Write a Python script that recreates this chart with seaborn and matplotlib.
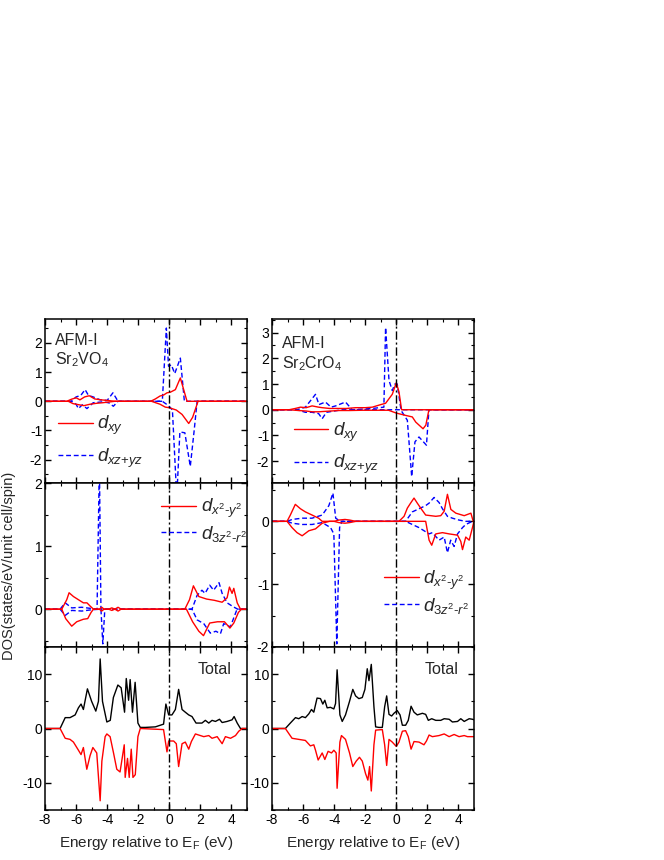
import matplotlib
matplotlib.use("Agg")
import matplotlib.pyplot as plt
from matplotlib.ticker import MultipleLocator
from matplotlib.lines import Line2D
import seaborn as sns

# ---- Sr2VO4 : d_xy / d_xz+yz (up = positive, down = negative) ----
V_XY_UP_E = [-8, -6.6, -6.3, -6.0, -5.75, -5.45, -5.15, -4.8, -4.4, -4.0, -3.5, -1.2, -0.9, -0.6, -0.35, -0.15, 0.06, 0.39, 0.71, 1.14, 5]
V_XY_UP = [0, 0, 0.07, 0.12, 0.05, 0.15, 0.19, 0.08, 0.05, 0.03, 0, 0, 0.08, 0.18, 0.22, 0.29, 0.31, 0.4, 0.8, 0, 0]
V_XY_DN_E = [-8, -6.5, -6.2, -5.8, -5.5, -5.1, -4.7, -4.3, -3.5, -1.15, -0.6, -0.26, 0.0, 0.45, 0.82, 1.25, 1.5, 1.85, 5]
V_XY_DN = [0, 0, -0.08, -0.12, -0.15, -0.1, -0.07, -0.05, 0, 0, -0.1, -0.2, -0.22, -0.3, -0.45, -0.76, -0.55, 0, 0]
V_YZ_UP_E = [-8, -6.3, -6.0, -5.7, -5.42, -5.2, -4.9, -4.45, -4.0, -3.63, -3.3, -0.45, -0.19, -0.05, 0.13, 0.35, 0.71, 0.97, 5]
V_YZ_UP = [0, 0, 0.15, 0.2, 0.4, 0.2, 0.15, 0.05, 0.03, 0.29, 0, 0, 2.51, 1.2, 1.25, 0.95, 1.48, 0, 0]
V_YZ_DN_E = [-8, -6.3, -6.0, -5.85, -5.6, -5.3, -4.9, -4.3, -3.9, -3.6, -3.3, -0.45, -0.05, 0.2, 0.48, 0.68, 1.0, 1.35, 1.6, 1.79, 5]
V_YZ_DN = [0, 0, -0.1, -0.25, -0.12, -0.25, -0.05, -0.02, -0.05, -0.17, 0, 0, -0.15, -0.3, -3.3, -1.05, -1.08, -2.23, -1.0, 0, 0]

# ---- Sr2VO4 : d_x2-y2 / d_3z2-r2 ----
V_X2_UP_E = [-8, -6.92, -6.6, -6.45, -6.17, -5.85, -5.53, -5.3, -5.1, -4.88, -4.5, -4.35, -4.2, -3.9, -3.7, -3.5, -3.3, -3.1, 1.0, 1.3, 1.55, 1.9, 2.4, 2.9, 3.4, 3.72, 3.87, 4.04, 4.15, 4.37, 4.58, 5]
V_X2_UP = [0, 0, 0.15, 0.26, 0.2, 0.15, 0.1, 0.1, 0.05, 0, 0, 0.03, 0, 0, 0.02, 0, 0.03, 0, 0, 0.15, 0.37, 0.2, 0.16, 0.14, 0.11, 0.18, 0.35, 0.25, 0.33, 0.1, 0, 0]
V_X2_DN_E = [-8, -6.92, -6.67, -6.28, -5.96, -5.53, -5.25, -5.03, -4.88, -4.5, -4.35, -4.2, -3.9, -3.7, -3.5, -3.3, -3.1, 1.1, 1.5, 1.9, 2.2, 2.6, 3.1, 3.55, 3.9, 4.15, 4.45, 4.65, 5]
V_X2_DN = [0, 0, -0.15, -0.27, -0.2, -0.16, -0.15, -0.05, 0, 0, -0.03, 0, 0, -0.02, 0, -0.03, 0, 0, -0.2, -0.35, -0.42, -0.22, -0.2, -0.2, -0.3, -0.22, -0.05, 0, 0]
V_Z2_UP_E = [-8, -7.03, -6.7, -6.28, -5.63, -5.0, -4.65, -4.5, -4.4, -4.0, -3.5, 1.46, 1.79, 2.1, 2.3, 2.6, 2.85, 3.2, 3.4, 3.72, 4.1, 4.4, 5]
V_Z2_UP = [0, 0, 0.1, 0.02, 0.03, 0.01, 0, 2.3, 0, 0, 0, 0, 0.22, 0.3, 0.25, 0.38, 0.3, 0.42, 0.25, 0.1, 0.04, 0, 0]
V_Z2_DN_E = [-8, -7.03, -6.7, -6.28, -5.63, -5.0, -4.4, -4.28, -4.15, 1.46, 1.79, 2.22, 2.64, 3.0, 3.29, 3.5, 3.93, 4.36, 5]
V_Z2_DN = [0, 0, -0.1, -0.02, -0.03, -0.01, 0, -0.55, 0, 0, -0.17, -0.23, -0.38, -0.35, -0.39, -0.23, -0.28, 0, 0]

# ---- Sr2VO4 : total ----
V_TOT_UP_E = [-8, -7.03, -6.7, -6.39, -6.06, -5.85, -5.68, -5.53, -5.27, -5.0, -4.73, -4.56, -4.45, -4.3, -4.02, -3.8, -3.6, -3.31, -3.1, -2.88, -2.77, -2.62, -2.52, -2.37, -2.2, -2.02, -1.87, -1.55, -0.9, -0.37, -0.22, -0.04, 0.17, 0.39, 0.6, 0.82, 1.03, 1.25, 1.46, 1.72, 2.1, 2.32, 2.54, 2.75, 2.97, 3.23, 3.4, 3.72, 4.04, 4.17, 4.37, 4.58, 5]
V_TOT_UP = [0, 0, 2.0, 2.0, 2.5, 3.8, 4.5, 3.5, 7.3, 5.0, 3.2, 5.0, 12.8, 5.0, 1.2, 1.5, 5.7, 8.0, 7.5, 3.0, 9.2, 5.2, 9.0, 3.0, 8.5, 1.0, 0.2, 0.2, 0.3, 0.8, 4.5, 2.5, 2.5, 3.5, 7.2, 3.5, 3.0, 2.5, 2.2, 1.0, 1.0, 1.5, 1.0, 1.5, 1.3, 1.7, 1.1, 1.3, 1.6, 2.2, 1.0, 0, 0]
V_TOT_DN_E = [-8, -7.03, -6.7, -6.39, -6.17, -5.89, -5.68, -5.53, -5.31, -5.1, -4.92, -4.67, -4.45, -4.34, -4.13, -4.02, -3.81, -3.59, -3.38, -3.17, -2.9, -2.84, -2.69, -2.58, -2.45, -2.34, -2.19, -2.02, -1.87, -0.37, -0.15, -0.04, 0.28, 0.45, 0.6, 0.82, 1.03, 1.25, 1.42, 1.68, 1.89, 2.22, 2.54, 2.75, 3.08, 3.4, 3.61, 3.94, 4.26, 4.47, 4.69, 5]
V_TOT_DN = [0, 0, -1.8, -2.0, -2.5, -3.8, -4.8, -3.5, -7.5, -5.0, -3.5, -4.5, -13.3, -6.0, -1.5, -1.0, -1.5, -4.5, -7.5, -8.0, -3.0, -9.0, -5.5, -9.0, -3.8, -9.0, -8.5, -1.5, 0, -0.2, -4.3, -2.3, -2.3, -2.8, -7.0, -2.8, -2.5, -3.8, -2.4, -1.0, -1.2, -1.5, -1.3, -1.8, -1.5, -2.8, -1.5, -1.8, -1.3, -0.5, 0, 0]

# ---- Sr2CrO4 : d_xy / d_xz+yz ----
C_XY_UP_E = [-8, -6.9, -6.5, -6.17, -5.8, -5.42, -5.0, -4.77, -4.3, -3.7, -3.2, -2.62, -2.0, -1.55, -1.0, -0.69, -0.26, 0.0, 0.17, 0.34, 5]
C_XY_UP = [0, 0, 0.05, 0.1, 0.08, 0.15, 0.1, 0.08, 0.05, 0.05, 0.05, 0.08, 0.08, 0.1, 0.2, 0.25, 0.6, 1.05, 0.7, 0, 0]
C_XY_DN_E = [-8, -6.9, -6.3, -5.8, -5.42, -5.0, -4.5, -3.7, -3.0, -2.2, -1.4, -0.5, 0.0, 0.6, 1.03, 1.25, 1.72, 1.9, 2.1, 5]
C_XY_DN = [0, 0, -0.03, -0.05, -0.08, -0.08, -0.06, -0.03, -0.03, -0.02, -0.02, -0.02, -0.13, -0.22, -0.28, -0.48, -0.74, -0.6, 0, 0]
C_YZ_UP_E = [-8, -6.4, -5.85, -5.2, -4.98, -4.56, -4.2, -3.9, -3.27, -2.84, -1.55, -0.8, -0.69, -0.47, -0.26, -0.09, 0.06, 0.3, 5]
C_YZ_UP = [0, 0, 0.1, 0.6, 0.2, 0.3, 0.1, 0.15, 0.3, 0, 0.05, 0.1, 3.2, 1.14, 0.75, 1.0, 1.0, 0, 0]
C_YZ_DN_E = [-8, -6.4, -5.85, -5.42, -5.0, -4.77, -4.5, -4.0, -3.5, 0.28, 0.71, 0.99, 1.2, 1.46, 1.94, 2.1, 5]
C_YZ_DN = [0, 0, -0.1, -0.1, -0.15, -0.35, -0.1, -0.05, 0, 0, -0.41, -2.6, -1.25, -1.06, -1.38, 0, 0]

# ---- Sr2CrO4 : d_x2-y2 / d_3z2-r2 ----
C_X2_UP_E = [-8, -7.03, -6.82, -6.5, -6.17, -5.85, -5.42, -5.0, -4.77, -4.3, -4.0, -3.7, -3.3, -3.0, -2.6, 0.17, 0.5, 0.71, 0.92, 1.14, 1.35, 1.57, 1.89, 2.54, 2.86, 3.08, 3.29, 3.51, 3.83, 4.37, 4.8, 4.95, 5]
C_X2_UP = [0, 0, 0.1, 0.27, 0.2, 0.15, 0.1, 0.05, 0, 0.0, 0.0, 0.02, 0.03, 0.02, 0, 0, 0.08, 0.21, 0.29, 0.37, 0.29, 0.21, 0.1, 0.08, 0.09, 0.16, 0.43, 0.19, 0.13, 0.09, 0.13, 0, 0]
C_X2_DN_E = [-8, -7.03, -6.71, -6.39, -6.06, -5.63, -5.2, -4.77, -4.3, -4.0, -3.7, -3.3, -3.0, -2.6, 1.89, 2.11, 2.28, 2.54, 2.97, 3.4, 3.94, 4.15, 4.26, 4.47, 4.69, 4.9, 5]
C_X2_DN = [0, 0, -0.1, -0.18, -0.23, -0.15, -0.12, -0.03, 0, 0, -0.02, -0.03, -0.02, 0, 0, -0.3, -0.38, -0.2, -0.18, -0.2, -0.22, -0.32, -0.45, -0.25, -0.3, -0.1, 0]
C_Z2_UP_E = [-8, -7.03, -6.7, -6.06, -5.42, -4.77, -4.34, -4.08, -3.9, -3.6, 0.6, 1.03, 1.46, 1.89, 2.11, 2.43, 2.75, 2.97, 3.29, 3.61, 4.04, 4.47, 5]
C_Z2_UP = [0, 0, 0.03, 0.05, 0.05, 0.1, 0.25, 0.45, 0.05, 0, 0, 0.15, 0.2, 0.25, 0.29, 0.38, 0.3, 0.2, 0.08, 0.05, 0.02, 0, 0]
C_Z2_DN_E = [-8, -7.03, -6.7, -6.06, -5.42, -4.77, -4.23, -4.02, -3.83, -3.65, -3.5, 0.6, 1.46, 2.11, 2.32, 2.75, 3.08, 3.29, 3.5, 3.72, 3.94, 4.26, 4.47, 4.9, 5]
C_Z2_DN = [0, 0, -0.03, -0.05, -0.05, -0.02, -0.1, -0.2, -1.95, -0.1, 0, 0, -0.1, -0.2, -0.18, -0.3, -0.25, -0.5, -0.3, -0.4, -0.2, -0.1, -0.05, 0, 0]

# ---- Sr2CrO4 : total ----
C_TOT_UP_E = [-8, -7.14, -6.82, -6.49, -6.28, -6.06, -5.85, -5.63, -5.46, -5.31, -5.10, -4.88, -4.73, -4.60, -4.45, -4.24, -4.02, -3.91, -3.81, -3.63, -3.48, -3.27, -3.01, -2.80, -2.62, -2.41, -2.19, -2.02, -1.87, -1.76, -1.61, -1.44, -1.33, -1.12, -0.90, -0.75, -0.62, -0.47, -0.30, -0.15, 0.06, 0.24, 0.39, 0.60, 0.77, 0.95, 1.14, 1.35, 1.68, 1.89, 2.06, 2.28, 2.54, 2.86, 3.08, 3.40, 3.61, 3.94, 4.15, 4.37, 4.69, 4.90, 5]
C_TOT_UP = [0, 0, 1.0, 2.0, 1.8, 2.2, 2.0, 2.7, 3.5, 3.0, 5.6, 5.5, 4.5, 5.2, 3.8, 3.9, 3.6, 4.6, 10.8, 2.5, 1.3, 2.5, 5.0, 7.2, 6.0, 5.5, 5.7, 7.2, 11.0, 8.8, 11.8, 4.0, 0.3, 0.2, 0.2, 4.0, 6.0, 2.6, 2.3, 2.8, 3.3, 2.5, 0.6, 0.6, 1.5, 4.1, 3.0, 2.5, 2.8, 2.6, 1.5, 1.8, 1.5, 1.5, 1.8, 1.7, 1.2, 1.3, 1.8, 1.3, 1.8, 1.7, 1.6]
C_TOT_DN_E = [-8, -7.14, -6.71, -6.28, -5.85, -5.53, -5.31, -5.20, -5.03, -4.77, -4.60, -4.39, -4.17, -4.02, -3.87, -3.81, -3.63, -3.53, -3.27, -3.01, -2.80, -2.58, -2.37, -2.19, -1.98, -1.83, -1.72, -1.61, -1.44, -1.33, -0.90, -0.75, -0.62, -0.47, -0.26, 0.00, 0.17, 0.39, 0.60, 0.77, 0.95, 1.14, 1.46, 1.78, 1.94, 2.11, 2.32, 2.75, 3.08, 3.40, 3.72, 4.04, 4.37, 4.58, 4.90, 5]
C_TOT_DN = [0, 0, -1.8, -2.0, -2.2, -3.2, -3.0, -4.0, -5.8, -4.5, -5.7, -4.2, -4.5, -4.0, -4.5, -11.0, -2.5, -1.3, -2.0, -4.5, -7.0, -6.0, -5.3, -6.0, -8.3, -9.5, -7.0, -11.5, -3.0, -0.3, -0.2, -3.0, -6.8, -2.0, -2.5, -3.3, -2.5, -0.5, -0.4, -1.5, -3.8, -2.4, -2.5, -3.0, -2.3, -1.2, -1.5, -1.3, -1.0, -1.5, -1.1, -1.5, -1.3, -1.5, -1.5, -1.5]

RED = "#ff0000"
BLUE = "#0000ff"
DASH = (0, (3.5, 2))

sns.set_theme(style="ticks")
plt.rcParams["font.family"] = ["Liberation Sans", "DejaVu Sans"]
plt.rcParams.update({
    "axes.unicode_minus": False,
    "mathtext.fontset": "custom",
    "mathtext.rm": "Liberation Sans",
    "mathtext.it": "Liberation Sans:italic",
    "mathtext.bf": "Liberation Sans:bold",
    "xtick.direction": "in", "ytick.direction": "in",
    "xtick.top": True, "ytick.right": True,
    "xtick.major.size": 4, "ytick.major.size": 4,
    "xtick.minor.size": 2, "ytick.minor.size": 2,
    "xtick.major.width": 1, "ytick.major.width": 1,
    "xtick.minor.width": 0.8, "ytick.minor.width": 0.8,
    "xtick.labelsize": 10, "ytick.labelsize": 10,
    "axes.linewidth": 1.1, "axes.edgecolor": "black",
    "xtick.color": "black", "ytick.color": "black",
})

fig = plt.figure(figsize=(6.64, 8.60), dpi=100)
W, H = 664, 860


def add_ax(x0, x1, y0, y1):
    return fig.add_axes([x0 / W, 1 - y1 / H, (x1 - x0) / W, (y1 - y0) / H])


def line(ax, e, v, color, ls="-"):
    sns.lineplot(x=e, y=v, ax=ax, color=color, linewidth=1, linestyle=ls,
                 estimator=None, sort=False, errorbar=None)


def style(ax, ylim, ymaj, ymin, bottom=False):
    ax.set_xlim(-8, 5)
    ax.set_ylim(*ylim)
    ax.xaxis.set_major_locator(MultipleLocator(2))
    ax.xaxis.set_minor_locator(MultipleLocator(1))
    ax.yaxis.set_major_locator(MultipleLocator(ymaj))
    ax.yaxis.set_minor_locator(MultipleLocator(ymin))
    ax.tick_params(which="both", direction="in", top=True, right=True, pad=2)
    if not bottom:
        ax.tick_params(labelbottom=False)
    ax.axvline(0, color="black", lw=1, ls=(0, (6, 2, 1.5, 2)))


cols = [(45, 247), (272, 474)]
rows = [(319, 483), (483, 647), (647, 810)]

sets = [
    dict(xy=(V_XY_UP_E, V_XY_UP, V_XY_DN_E, V_XY_DN), yz=(V_YZ_UP_E, V_YZ_UP, V_YZ_DN_E, V_YZ_DN),
         x2=(V_X2_UP_E, V_X2_UP, V_X2_DN_E, V_X2_DN), z2=(V_Z2_UP_E, V_Z2_UP, V_Z2_DN_E, V_Z2_DN),
         tot=(V_TOT_UP_E, V_TOT_UP, V_TOT_DN_E, V_TOT_DN),
         name="AFM-I\nSr$_2$VO$_4$", ylim_top=(-2.8, 2.82), ylim_mid=(-0.6, 2.0),
         leg_top=(0.064, 0.25), leg_mid=(0.575, 0.771), namey=0.915),
    dict(xy=(C_XY_UP_E, C_XY_UP, C_XY_DN_E, C_XY_DN), yz=(C_YZ_UP_E, C_YZ_UP, C_YZ_DN_E, C_YZ_DN),
         x2=(C_X2_UP_E, C_X2_UP, C_X2_DN_E, C_X2_DN), z2=(C_Z2_UP_E, C_Z2_UP, C_Z2_DN_E, C_Z2_DN),
         tot=(C_TOT_UP_E, C_TOT_UP, C_TOT_DN_E, C_TOT_DN),
         name="AFM-I\nSr$_2$CrO$_4$", ylim_top=(-2.85, 3.53), ylim_mid=(-2.0, 0.61),
         leg_top=(0.107, 0.21), leg_mid=(0.554, 0.335), namey=0.896),
]

LEG = dict(loc="center left", frameon=False, fontsize=13.5, borderpad=0, borderaxespad=0,
           handlelength=1.85, handletextpad=0.25)

for (x0, x1), d in zip(cols, sets):
    # top: d_xy and d_xz+yz
    ax = add_ax(x0, x1, *rows[0])
    line(ax, d["yz"][0], d["yz"][1], BLUE, DASH)
    line(ax, d["yz"][2], d["yz"][3], BLUE, DASH)
    line(ax, d["xy"][0], d["xy"][1], RED)
    line(ax, d["xy"][2], d["xy"][3], RED)
    style(ax, d["ylim_top"], 1, 0.5)
    ax.text(0.05, d["namey"], d["name"], transform=ax.transAxes, ha="left", va="top",
            fontsize=11.5, linespacing=1.2)
    handles = [Line2D([], [], color=RED, lw=1), Line2D([], [], color=BLUE, lw=1, ls=DASH)]
    ax.legend(handles, [r"$d_{xy}$", r"$d_{xz{+}yz}$"], bbox_to_anchor=d["leg_top"],
              labelspacing=0.5, **LEG)

    # middle: d_x2-y2 and d_3z2-r2
    ax = add_ax(x0, x1, *rows[1])
    line(ax, d["z2"][0], d["z2"][1], BLUE, DASH)
    line(ax, d["z2"][2], d["z2"][3], BLUE, DASH)
    line(ax, d["x2"][0], d["x2"][1], RED)
    line(ax, d["x2"][2], d["x2"][3], RED)
    style(ax, d["ylim_mid"], 1, 0.5)
    ax.legend(handles, [r"$d_{x^2\text{-}y^2}$", r"$d_{3z^2\text{-}r^2}$"],
              bbox_to_anchor=d["leg_mid"], labelspacing=0.2, **LEG)

    # bottom: total DOS
    ax = add_ax(x0, x1, *rows[2])
    line(ax, d["tot"][0], d["tot"][1], "black")
    line(ax, d["tot"][2], d["tot"][3], RED)
    style(ax, (-15, 15), 10, 5, bottom=True)
    ax.text(0.84, 0.86, "Total", transform=ax.transAxes, ha="center", va="center", fontsize=11.5)
    ax.set_xlabel(r"Energy relative to E$_\mathrm{F}$ (eV)", fontsize=11, labelpad=5)

fig.text(0.014, 0.342, "DOS(states/eV/unit cell/spin)", rotation=90,
         ha="center", va="center", fontsize=10.5)

fig.savefig("out.png", dpi=100)
